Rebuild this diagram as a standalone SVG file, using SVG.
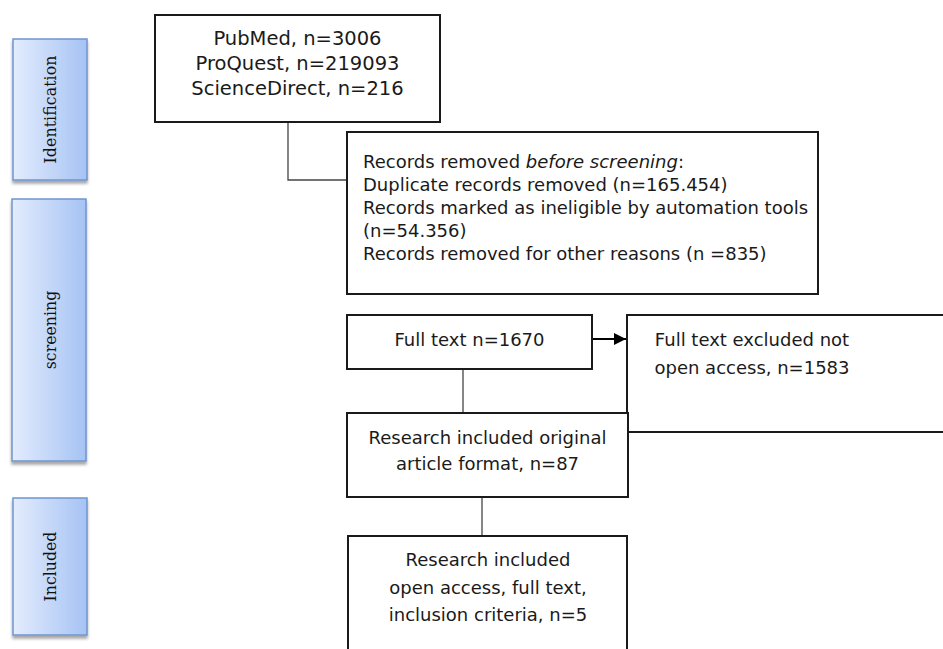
<svg xmlns="http://www.w3.org/2000/svg" width="943" height="649" viewBox="0 0 943 649">
  <defs>
    <linearGradient id="phaseFill" x1="0" y1="0" x2="1" y2="0">
      <stop offset="0" stop-color="#e3ecfd"/>
      <stop offset="1" stop-color="#a6c3f4"/>
    </linearGradient>
    <filter id="shadow" x="-20%" y="-10%" width="140%" height="130%">
      <feDropShadow dx="0" dy="3" stdDeviation="1.5" flood-color="#000" flood-opacity="0.35"/>
    </filter>
    <marker id="arrow" viewBox="0 0 10 10" refX="10" refY="5" markerWidth="12" markerHeight="12" markerUnits="userSpaceOnUse" orient="auto">
      <path d="M0,0 L10,5 L0,10 Z" fill="#000"/>
    </marker>
  </defs>
  <style>
    .phase { fill: url(#phaseFill); stroke: #6f95cf; stroke-width: 1.5; filter: url(#shadow); }
    .phase-label { font-family: "DejaVu Serif Condensed", "DejaVu Serif", serif; font-stretch: condensed; font-size: 17.5px; fill: #111; text-anchor: middle; }
    .box { fill: #fff; stroke: #1a1a1a; stroke-width: 2; }
    .t { font-family: "DejaVu Sans", "Liberation Sans", sans-serif; font-size: 18px; fill: #1a1a1a; }
    .big { font-size: 19.5px; }
    .c { text-anchor: middle; }
    .conn { fill: none; stroke: #444; stroke-width: 1.3; }
    .arrowline { fill: none; stroke: #000; stroke-width: 2.2; }
  </style>
  <rect width="943" height="649" fill="#fff"/>

  <g id="phase-identification">
    <rect class="phase" x="13" y="39" width="74" height="141"/>
    <text class="phase-label" transform="translate(56,109.5) rotate(-90)" textLength="108">Identification</text>
  </g>
  <g id="phase-screening">
    <rect class="phase" x="12" y="199" width="74" height="262"/>
    <text class="phase-label" transform="translate(56,330) rotate(-90)">screening</text>
  </g>
  <g id="phase-included">
    <rect class="phase" x="13" y="498" width="74" height="137"/>
    <text class="phase-label" transform="translate(56,566.5) rotate(-90)">Included</text>
  </g>

  <g id="connectors">
    <path class="conn" d="M288,122 V180 H347"/>
    <path class="arrowline" d="M592,339 H626" marker-end="url(#arrow)"/>
    <path class="conn" d="M463,369 V413"/>
    <path class="conn" d="M482,497 V536"/>
  </g>

  <g id="sources">
    <rect class="box" x="155" y="15" width="285" height="107"/>
    <text class="t big c" x="297.5" y="45">PubMed, n=3006</text>
    <text class="t big c" x="297.5" y="70">ProQuest, n=219093</text>
    <text class="t big c" x="297.5" y="95">ScienceDirect, n=216</text>
  </g>

  <g id="removed">
    <rect class="box" x="347" y="132" width="471" height="162"/>
    <text class="t" x="363" y="168">Records removed <tspan font-style="italic">before screening</tspan>:</text>
    <text class="t" x="363" y="191">Duplicate records removed (n=165.454)</text>
    <text class="t" x="363" y="214">Records marked as ineligible by automation tools</text>
    <text class="t" x="363" y="237">(n=54.356)</text>
    <text class="t" x="363" y="260">Records removed for other reasons (n =835)</text>
  </g>

  <g id="fulltext">
    <rect class="box" x="347" y="315" width="245" height="54"/>
    <text class="t c" x="469.5" y="346">Full text n=1670</text>
  </g>

  <g id="excluded">
    <rect class="box" x="627" y="315" width="340" height="117"/>
    <text class="t c" x="752" y="346">Full text excluded not</text>
    <text class="t c" x="752" y="374">open access, n=1583</text>
  </g>

  <g id="original-format">
    <rect class="box" x="347" y="413" width="281" height="84"/>
    <text class="t c" x="487.5" y="444">Research included original</text>
    <text class="t c" x="487.5" y="470">article format, n=87</text>
  </g>

  <g id="included-final">
    <rect class="box" x="348" y="536" width="279" height="150"/>
    <text class="t c" x="488" y="566" font-size="18.5">Research included</text>
    <text class="t c" x="488" y="594" font-size="18.5">open access, full text,</text>
    <text class="t c" x="488" y="621" font-size="18.5">inclusion criteria, n=5</text>
  </g>
</svg>
